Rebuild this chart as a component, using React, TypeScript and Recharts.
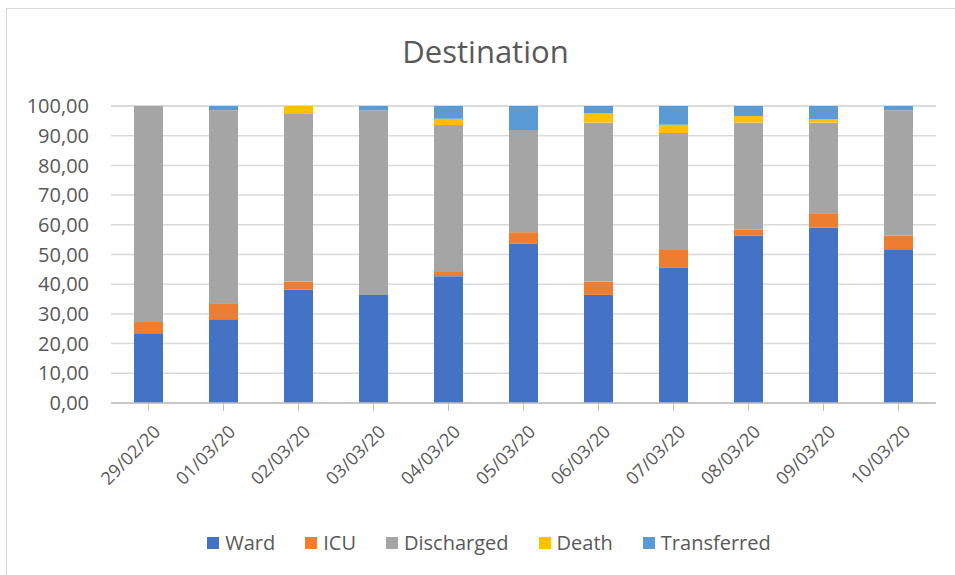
import React from 'react';
import { BarChart, Bar, XAxis, YAxis, CartesianGrid } from 'recharts';

const dates = ['29/02/20', '01/03/20', '02/03/20', '03/03/20', '04/03/20', '05/03/20', '06/03/20', '07/03/20', '08/03/20', '09/03/20', '10/03/20'];
const ward = [23.5, 28.2, 38.2, 36.4, 42.7, 53.6, 36.4, 45.5, 56.4, 59.1, 51.8];
const icu = [3.8, 5.4, 2.7, 0, 1.7, 3.9, 4.5, 6.3, 1.9, 4.8, 4.6];
const discharged = [72.7, 64.9, 56.4, 62.1, 49.2, 34.4, 53.5, 39.1, 36.1, 30.5, 42.1];
const death = [0, 0, 2.7, 0, 2.1, 0, 3.1, 2.8, 2.2, 1.2, 0];
const transferred = [0, 1.5, 0, 1.5, 4.3, 8.1, 2.5, 6.3, 3.4, 4.4, 1.5];
const yTicks = [0, 10, 20, 30, 40, 50, 60, 70, 80, 90, 100];

const series = [
  { key: 'Ward', color: '#4472C4' },
  { key: 'ICU', color: '#ED7D31' },
  { key: 'Discharged', color: '#A5A5A5' },
  { key: 'Death', color: '#FFC000' },
  { key: 'Transferred', color: '#5B9BD5' },
];

const data = dates.map((d, i) => ({
  date: d,
  Ward: ward[i],
  ICU: icu[i],
  Discharged: discharged[i],
  Death: death[i],
  Transferred: transferred[i],
}));

const FONT = '"Open Sans", sans-serif';
const TEXT = '#595959';

if (typeof document !== 'undefined') document.body.style.margin = '0';

const DateTick = (props: any) => {
  const { x, y, payload } = props;
  return (
    <g transform={`translate(${x + 6},${y + 13})`}>
      <text
        x={0}
        y={0}
        dy={10}
        textAnchor="end"
        transform="rotate(-45)"
        fill={TEXT}
        fontSize={18}
        fontFamily={FONT}
      >
        {payload.value}
      </text>
    </g>
  );
};

export default function App() {
  return (
    <div style={{ position: 'relative', width: 955, height: 575, background: '#fff', overflow: 'hidden' }}>
      {/* frame */}
      <div style={{ position: 'absolute', left: 6, top: 8, right: 0, bottom: 0, borderLeft: '1px solid #d9d9d9', borderTop: '1px solid #d9d9d9' }} />
      <div
        style={{
          position: 'absolute',
          top: 30,
          left: 0,
          width: 971,
          textAlign: 'center',
          fontFamily: FONT,
          fontSize: 31,
          color: TEXT,
        }}
      >
        Destination
      </div>
      <div style={{ position: 'absolute', left: 0, top: 0 }}>
        <BarChart width={955} height={575} data={data} margin={{ top: 106, right: 19, bottom: 72, left: 0 }} barSize={29}>
          <CartesianGrid vertical={false} stroke="#D9D9D9" strokeWidth={1.5} />
          <XAxis
            dataKey="date"
            tick={<DateTick />}
            tickLine={{ stroke: '#BFBFBF' }}
            axisLine={{ stroke: '#BFBFBF', strokeWidth: 1.5 }}
            tickSize={8}
            interval={0}
            height={100}
          />
          <YAxis
            domain={[0, 100]}
            ticks={yTicks}
            interval={0}
            width={111}
            axisLine={false}
            tickLine={false}
            tickSize={0}
            tickMargin={22}
            tick={{ fill: TEXT, fontSize: 20, fontFamily: FONT }}
            tickFormatter={(v: number) => v.toFixed(2).replace('.', ',')}
          />
          {series.map((s) => (
            <Bar key={s.key} dataKey={s.key} stackId="a" fill={s.color} isAnimationActive={false} />
          ))}
        </BarChart>
      </div>
      {/* legend */}
      <div
        style={{
          position: 'absolute',
          top: 529,
          left: 0,
          width: 978,
          display: 'flex',
          justifyContent: 'center',
          gap: 30,
          fontFamily: FONT,
          fontSize: 20,
          color: TEXT,
        }}
      >
        {series.map((s) => (
          <div key={s.key} style={{ display: 'flex', alignItems: 'center' }}>
            <span style={{ display: 'inline-block', width: 12, height: 12, background: s.color, marginRight: 6 }} />
            {s.key}
          </div>
        ))}
      </div>
    </div>
  );
}
